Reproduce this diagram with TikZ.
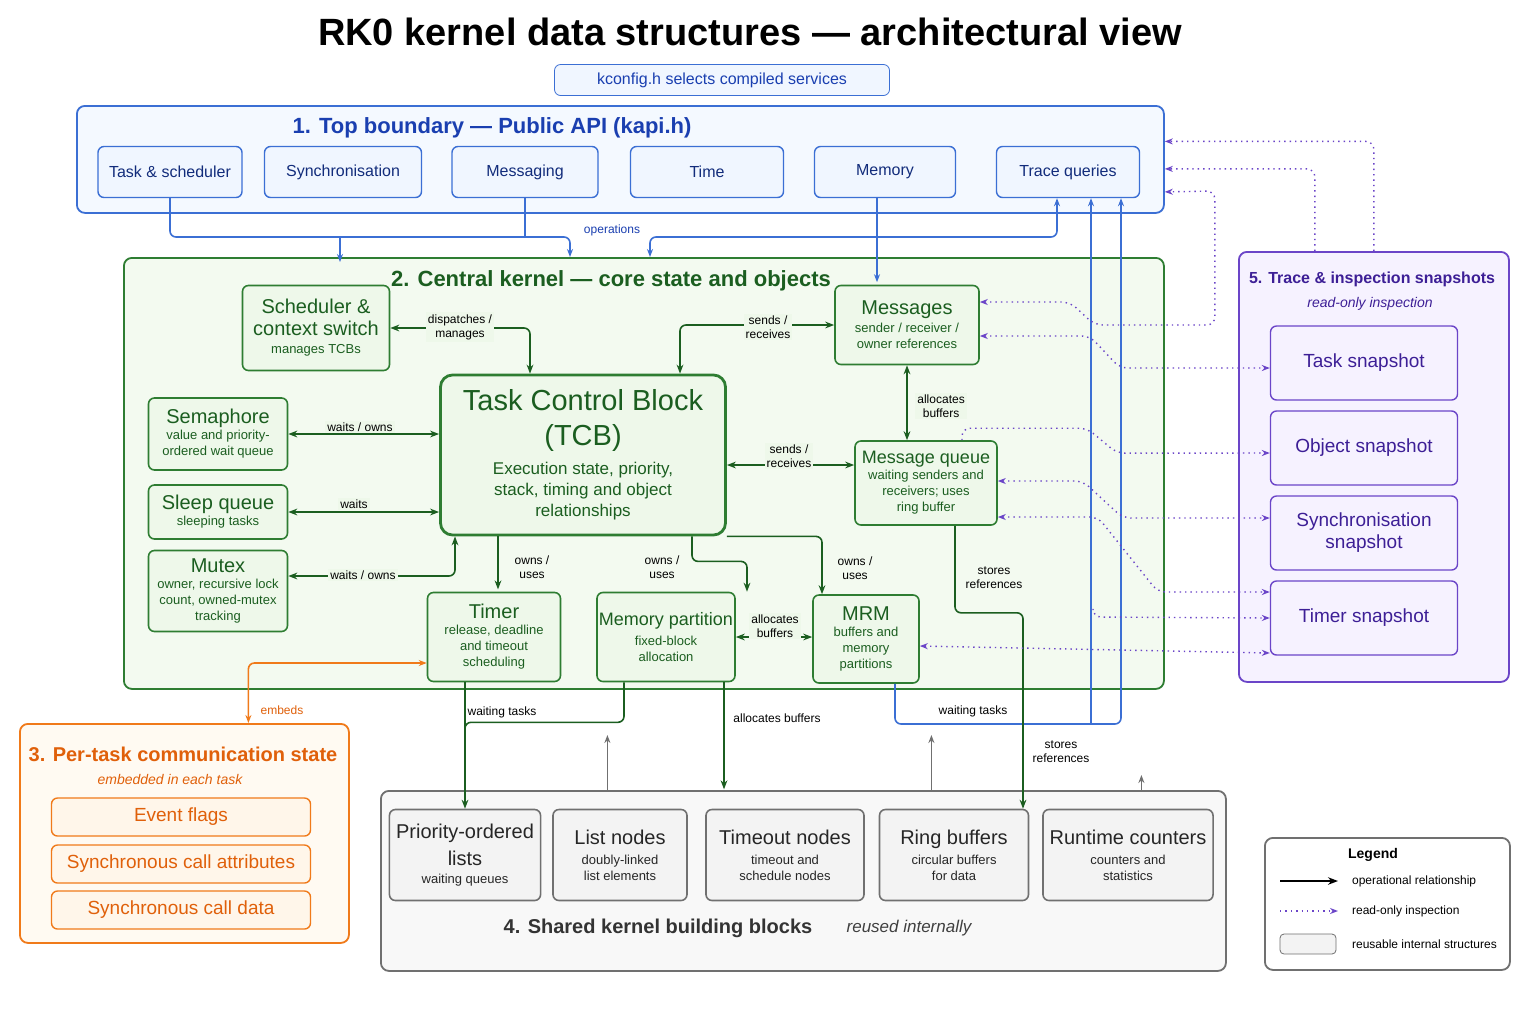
\documentclass[tikz,border=0pt]{standalone}
\usepackage{fontspec}
\setmainfont{Liberation Sans}
\usetikzlibrary{arrows.meta,positioning,calc}
\definecolor{apiC}{HTML}{3B6FD4}
\definecolor{apiF}{HTML}{F0F6FF}
\definecolor{apiT}{HTML}{1A3FB0}
\definecolor{kerC}{HTML}{2E7D32}
\definecolor{kerF}{HTML}{EEF8EA}
\definecolor{kerT}{HTML}{1B5E20}
\definecolor{tskC}{HTML}{F07A1A}
\definecolor{tskF}{HTML}{FFF6EA}
\definecolor{tskT}{HTML}{E0600A}
\definecolor{shC}{HTML}{707070}
\definecolor{shF}{HTML}{F3F3F3}
\definecolor{trC}{HTML}{6B45C8}
\definecolor{trF}{HTML}{F6F2FF}
\definecolor{trT}{HTML}{3D1F96}
\newcommand{\tbig}{\fontsize{10}{11.5}\selectfont}
\newcommand{\tsmall}{\fontsize{6.5}{8}\selectfont}
\newcommand{\lbl}{\fontsize{6}{7}\selectfont}
\tikzset{
  region/.style={rounded corners=4pt, line width=0.9pt, anchor=north west},
  apibox/.style={draw=apiC, fill=apiF, rounded corners=3pt, line width=0.7pt, text=apiT!70!black,
    minimum height=25.5pt, font=\fontsize{8}{9}\selectfont},
  kbox/.style={draw=kerC, fill=kerF, rounded corners=3pt, line width=0.8pt, text=kerT, align=center,
    inner sep=1pt, font=\tsmall},
  tbox/.style={draw=tskC, fill=tskF, rounded corners=3pt, line width=0.7pt, text=tskT,
    minimum width=129.5pt, minimum height=19pt, font=\fontsize{9.5}{10}\selectfont},
  sbox/.style={draw=shC, fill=shF, rounded corners=3pt, line width=0.8pt, text=black!85, align=center,
    minimum height=45.5pt, font=\tsmall},
  snap/.style={draw=trC, fill=trF, rounded corners=3pt, line width=0.7pt, text=trT, align=center,
    minimum width=93.5pt, minimum height=37pt, font=\fontsize{9.5}{11}\selectfont},
  apiln/.style={draw=apiC, line width=0.8pt, rounded corners=3pt},
  apiarr/.style={apiln, -{Stealth[length=4pt]}},
  apibi/.style={apiln, {Stealth[length=4pt]}-{Stealth[length=4pt]}},
  karr/.style={draw=kerT, line width=0.8pt, rounded corners=3pt, -{Stealth[length=4.5pt]}},
  kbi/.style={karr, {Stealth[length=4.5pt]}-{Stealth[length=4.5pt]}},
  klbl/.style={fill=kerF, text=black, font=\lbl, align=center, inner sep=1pt},
  trbi/.style={draw=trC, line width=0.7pt, dotted, rounded corners=4pt,
    {Stealth[length=4pt]}-{Stealth[length=4pt]}},
  trarr/.style={draw=trC, line width=0.7pt, dotted, rounded corners=4pt, -{Stealth[length=4pt]}},
  grarr/.style={draw=shC, line width=0.7pt, -{Stealth[length=4pt]}}
}
\begin{document}
\begin{tikzpicture}[x=0.5pt,y=-0.5pt]
\useasboundingbox[fill=white] (0,0) rectangle (1536,1024);
% title and config
\node[font=\bfseries\fontsize{19}{24}\selectfont] (title) at (750,32) {RK0 kernel data structures — architectural view};
\node[draw=apiC, fill=apiF, rounded corners=3pt, text=apiT, minimum width=167.5pt, minimum height=15.5pt,
  font=\fontsize{8}{9}\selectfont] (kconfig) at (722,80) {kconfig.h selects compiled services};

% regions
\node[region, draw=apiC, fill=apiF!70, minimum width=543.5pt, minimum height=53.5pt] (top) at (76,105) {};
\node[region, draw=kerC, fill=kerF!70, minimum width=520pt, minimum height=215.5pt] (central) at (123,257) {};
\node[region, draw=tskC, fill=tskF!60, minimum width=164.5pt, minimum height=109.5pt] (tasks) at (19,723) {};
\node[region, draw=shC, fill=shF!60, minimum width=422.5pt, minimum height=90pt] (shared) at (380,790) {};
\node[region, draw=trC, fill=trF, minimum width=135pt, minimum height=215pt] (tracereg) at (1238,251) {};
\node[region, draw=shC, fill=white, minimum width=122.5pt, minimum height=66pt] (legend) at (1264,837) {};

% 1. top boundary
\node[text=apiT, font=\bfseries\fontsize{11}{12}\selectfont] (toplbl) at (492,128) {1. Top boundary — Public API (kapi.h)};
\node[apibox, minimum width=72pt] (tasksch) at (170,172) {Task \& scheduler};
\node[apibox, minimum width=78.5pt] (sync) at (343,172) {Synchronisation};
\node[apibox, minimum width=73pt] (messaging) at (525,172) {Messaging};
\node[apibox, minimum width=76.5pt] (time) at (707,172) {Time};
\node[apibox, minimum width=70.5pt] (memory) at (885,172) {Memory};
\node[apibox, minimum width=71.5pt] (trace) at (1068,172) {Trace queries};

% 2. central kernel
\node[text=kerT, font=\bfseries\fontsize{11}{12}\selectfont] (kerlbl) at (611,281) {2. Central kernel — core state and objects};
\node[kbox, minimum width=73.5pt, minimum height=42.5pt] (sched) at (316,328)
  {\tbig Scheduler \&\\[3pt]\tbig context switch\\[1pt]manages TCBs};
\node[kbox, minimum width=72pt, minimum height=39.5pt] (messages) at (907,325)
  {\tbig Messages\\[1pt]sender / receiver /\\owner references};
\node[kbox, line width=1.4pt, rounded corners=6pt, minimum width=142.5pt, minimum height=80pt,
  font=\fontsize{8.5}{10.5}\selectfont] (tcb) at (583,455)
  {\fontsize{14.5}{17}\selectfont Task Control Block\\[6pt]\fontsize{14.5}{17}\selectfont (TCB)\\[4pt]Execution state, priority,\\stack, timing and object\\relationships};
\node[kbox, minimum width=69.5pt, minimum height=36pt] (sema) at (218,434)
  {\tbig Semaphore\\value and priority-\\ordered wait queue};
\node[kbox, minimum width=69.5pt, minimum height=27pt] (sleep) at (218,512)
  {\tbig Sleep queue\\sleeping tasks};
\node[kbox, minimum width=69.5pt, minimum height=40.5pt] (mutex) at (218,591)
  {\tbig Mutex\\owner, recursive lock\\count, owned-mutex\\tracking};
\node[kbox, minimum width=71pt, minimum height=42pt] (msgq) at (926,483)
  {\fontsize{9}{10}\selectfont Message queue\\waiting senders and\\receivers; uses\\ring buffer};
\node[kbox, minimum width=66.5pt, minimum height=44.5pt] (timer) at (494,637)
  {\tbig Timer\\release, deadline\\and timeout\\scheduling};
\node[kbox, minimum width=67.5pt, minimum height=44.5pt] (mempart) at (666,637)
  {\fontsize{9}{10}\selectfont Memory partition\\[2pt]fixed-block\\allocation};
\node[kbox, minimum width=53pt, minimum height=44pt] (mrm) at (866,639)
  {\tbig MRM\\buffers and\\memory\\partitions};

% 3. per-task state
\node[text=tskT, font=\bfseries\fontsize{10}{11}\selectfont] (tasklbl) at (183,754) {3. Per-task communication state};
\node[text=tskT, font=\itshape\fontsize{7}{8}\selectfont] (tasksub) at (170,779) {embedded in each task};
\node[tbox] (evflags) at (181,817) {Event flags};
\node[tbox] (syncattr) at (181,864) {Synchronous call attributes};
\node[tbox] (syncdata) at (181,910) {Synchronous call data};

% 4. shared building blocks
\node[sbox, minimum width=72.5pt] (lists) at (465,855) {\tbig Priority-ordered\\[3pt]\tbig lists\\[1pt]waiting queues};
\node[sbox, minimum width=67pt] (listnodes) at (620,855) {\tbig List nodes\\[2pt]doubly-linked\\list elements};
\node[sbox, minimum width=79pt] (timeout) at (785,855) {\tbig Timeout nodes\\[2pt]timeout and\\schedule nodes};
\node[sbox, minimum width=74.5pt] (ring) at (954,855) {\tbig Ring buffers\\[2pt]circular buffers\\for data};
\node[sbox, minimum width=81.5pt] (counters) at (1128,855) {\tbig Runtime counters\\[2pt]counters and\\statistics};
\node[font=\bfseries\fontsize{10}{11}\selectfont, text=black!80] (sharedlbl) at (658,928) {4. Shared kernel building blocks};
\node[font=\itshape\fontsize{8.5}{10}\selectfont, text=black!75] (sharedsub) at (909,928) {reused internally};

% 5. trace snapshots
\node[text=trT, font=\bfseries\fontsize{8}{10}\selectfont] (tracelbl) at (1372,279) {5. Trace \& inspection snapshots};
\node[text=trT, font=\itshape\fontsize{7}{8}\selectfont] (tracesub) at (1370,304) {read-only inspection};
\node[snap] (tasksnap) at (1364,363) {Task snapshot};
\node[snap] (objsnap) at (1364,448) {Object snapshot};
\node[snap] (syncsnap) at (1364,533) {Synchronisation\\snapshot};
\node[snap] (timersnap) at (1364,618) {Timer snapshot};

% API connectors
\draw[apiln] (tasksch.south) |- (525,237);
\draw[apiln] (messaging.south) -- (525,237);
\draw[apiarr] (340,237) -- (340,262);
\draw[apiarr] (525,237) -| (570,257);
\draw[apibi] (650,257) |- (1057,237) -- ([xshift=-5.5pt]trace.south);
\node[fill=white, text=apiT, font=\lbl, inner sep=1pt] (oplbl) at (612,230) {operations};
\draw[apiarr] (memory.south -| messages.north) ++(-30,0) -- ++(0,84);
\draw[apiarr] ([xshift=14.5pt]mrm.south) |- (1121,724) -- ([xshift=26.5pt]trace.south);
\draw[apiarr] (1091,724) -- ([xshift=11.5pt]trace.south);
\node[fill=white, font=\lbl, inner sep=1pt] (wt2) at (973,711) {waiting tasks};

% kernel connectors
\draw[kbi] ([xshift=-26.5pt]tcb.north) |- (sched.east);
\node[klbl] (l1) at (460,327) {dispatches /\\manages};
\draw[kbi] ([xshift=48.5pt]tcb.north) |- (messages.west);
\node[klbl] (l2) at (768,327) {sends /\\receives};
\draw[kbi] (messages.south) -- (messages.south |- msgq.north);
\node[klbl, anchor=west] (l3) at (915,406) {allocates\\buffers};
\draw[kbi] ([yshift=-5pt]tcb.east) -- ([yshift=9pt]msgq.west);
\node[klbl] (l4) at (789,456) {sends /\\receives};
\draw[kbi] (sema.east) -- (sema.east -| tcb.west);
\node[klbl] (l5) at (360,427) {waits / owns};
\draw[kbi] (sleep.east) -- (sleep.east -| tcb.west);
\node[klbl] (l6) at (354,504) {waits};
\draw[kbi] ([yshift=7.5pt]mutex.east) -| ([xshift=-64pt]tcb.south);
\node[klbl] (l7) at (363,575) {waits / owns};
\draw[karr] (tcb.south -| timer.north) ++(4,0) -- ++(0,53);
\node[klbl, fill=none] (l8) at (532,567) {owns /\\uses};
\draw[karr] ([xshift=54.5pt]tcb.south) -- ++(0,25) -| ([xshift=40.5pt]mempart.north);
\node[klbl, fill=none] (l9) at (662,567) {owns /\\uses};
\draw[karr] (tcb.south east) -| ([xshift=-22pt]mrm.north);
\node[klbl, fill=none] (l10) at (855,568) {owns /\\uses};
\draw[kbi] (mempart.east) -- (mempart.east -| mrm.west);
\node[klbl] (l11) at (775,626) {allocates\\buffers};
\draw[karr] ([xshift=14.5pt]msgq.south) -- ++(0,87) -| ([xshift=34.5pt]ring.north);
\node[klbl, fill=none] (l12) at (994,578) {stores\\references};
\node[klbl, fill=white] (l13) at (1061,752) {stores\\references};
\draw[karr] (timer.south -| lists.north) -- (lists.north);
\draw[karr, -] ([xshift=-21pt]mempart.south) -- ++(0,40) -| ++(-159,20);
\node[klbl, fill=white] (l14) at (502,712) {waiting tasks};
\draw[karr] ([xshift=29pt]mempart.south) -- ++(0,107);
\node[klbl, fill=white] (l15) at (777,718) {allocates buffers};
\draw[grarr] ([xshift=-98pt]shared.north) -- ++(0,-55);
\draw[grarr] ([xshift=64pt]shared.north) -- ++(0,-55);
\draw[grarr] ([xshift=169pt]shared.north) -- ++(0,-15);

% per-task embedding
\draw[draw=tskC, line width=0.8pt, rounded corners=3pt, {Stealth[length=4pt]}-{Stealth[length=4pt]}]
  ([yshift=-13pt]timer.west) -| ([xshift=32pt]tasks.north);
\node[text=tskT, font=\lbl, fill=white, inner sep=1pt] (l16) at (282,710) {embeds};

% read-only inspection
\draw[trarr] (tracereg.north) |- ([yshift=9pt]top.east);
\draw[trarr] ([xshift=-29.5pt]tracereg.north) |- ([yshift=-4.75pt]top.east);
\draw[trbi] ([yshift=11.5pt]messages.east) -- ++(90,0) -- ++(25,23) -- ++(120,0) -- ++(0,-134) -- ([yshift=-16.25pt]top.east);
\draw[trbi] ([yshift=-5.5pt]messages.east) -- ++(110,0) -- ++(30,32) -- ([yshift=-2.5pt]tasksnap.west);
\draw[trbi, -{Stealth[length=4pt]}] ([xshift=18pt]msgq.north) -- ++(0,-12) -- ++(125,0) -- ++(30,25) -- ([yshift=-2.5pt]objsnap.west);
\draw[trbi] ([yshift=1pt]msgq.east) -- ++(85,0) -- ++(40,37) -- ([yshift=7.5pt]syncsnap.west);
\draw[trbi] ([yshift=-17pt]msgq.east) -- ++(100,0) -- ++(60,75) -- ([yshift=13pt]timersnap.west);
\draw[trarr] (1093,610) -- (1093,617) -- (timersnap.west);
\draw[trbi] ([yshift=-3.5pt]mrm.east) -- ([yshift=-17.5pt]timersnap.west);

% legend
\node[font=\bfseries\fontsize{7}{8}\selectfont] (legtitle) at (1373,855) {Legend};
\draw[line width=1pt, -{Stealth[length=5pt]}] (1280,881) -- (1338,881);
\node[anchor=west, font=\lbl] (leg1) at (1345,881) {operational relationship};
\draw[trarr] (1280,911) -- (1338,911);
\node[anchor=west, font=\lbl] (leg2) at (1345,911) {read-only inspection};
\draw[draw=shC, fill=shF, rounded corners=2pt] (1280,934) rectangle (1336,954);
\node[anchor=west, font=\lbl] (leg3) at (1345,944) {reusable internal structures};
\end{tikzpicture}
\end{document}
